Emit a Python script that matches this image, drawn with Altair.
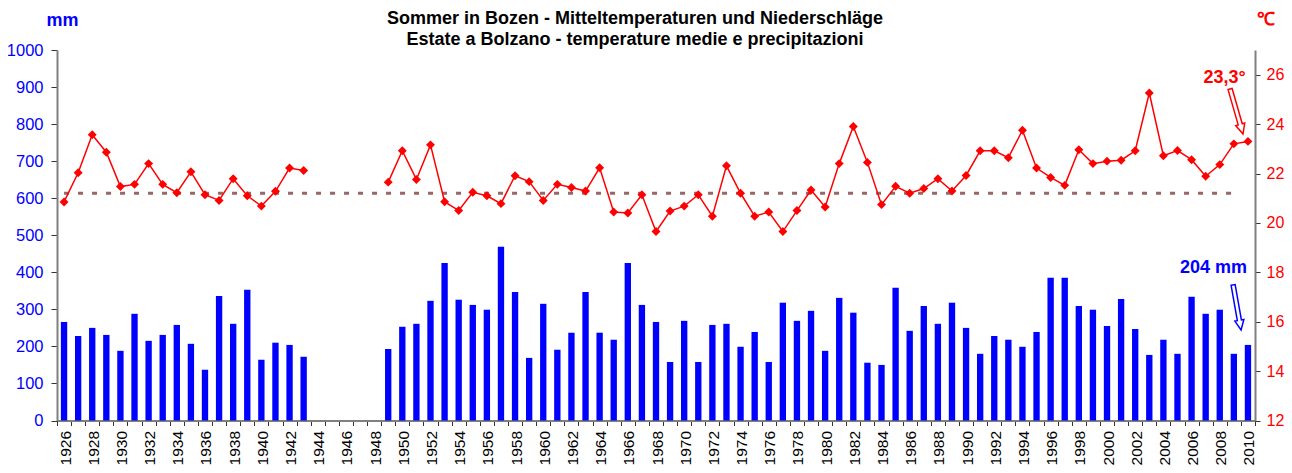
import altair as alt
import pandas as pd

# ---- data ----
years = list(range(1926, 1944)) + list(range(1949, 2011))
temps = [20.85, 22.03, 23.57, 22.86, 21.47, 21.56, 22.40, 21.56, 21.22, 22.07,
         21.14, 20.91, 21.79, 21.10, 20.68, 21.28, 22.22, 22.12,
         21.65, 22.92, 21.76, 23.16, 20.86, 20.50, 21.24, 21.10, 20.78, 21.91,
         21.67, 20.91, 21.56, 21.43, 21.29, 22.23, 20.44, 20.40, 21.14, 19.65,
         20.48, 20.68, 21.14, 20.27, 22.31, 21.20, 20.27, 20.44, 19.65, 20.50,
         21.33, 20.64,
         22.40, 23.90, 22.45, 20.74, 21.48, 21.20, 21.39, 21.79, 21.29, 21.92,
         22.92, 22.92, 22.64, 23.75, 22.22, 21.84, 21.52, 22.96, 22.40, 22.50,
         22.54, 22.92, 25.26, 22.72, 22.93, 22.56, 21.89, 22.36, 23.20, 23.30]
precip = [266, 228, 250, 231, 188, 288, 215, 231, 258, 207, 137, 336, 261, 353,
          164, 210, 204, 172,
          193, 253, 261, 323, 425, 326, 312, 299, 469, 347, 169, 315, 191, 237,
          347, 237, 218, 425, 312, 266, 158, 269, 158, 258, 261, 199, 239, 158,
          318, 269, 296, 188,
          331, 291, 156, 150, 358, 242, 309, 261, 318, 250, 180, 228, 218, 199,
          239, 385, 385, 309, 299, 255, 328, 247, 177, 218, 180, 334, 288, 299,
          180, 204]
mean_temp = 21.2
mean_span = [1926, 2009]
label_years = list(range(1926, 2011, 2))
tick_bounds = [1925.5 + i for i in range(86)]
mm_ticks = list(range(0, 1001, 100))
c_ticks = list(range(12, 27, 2))
title_lines = ["Sommer in Bozen - Mitteltemperaturen und Niederschläge",
               "Estate a Bolzano - temperature medie e precipitazioni"]

df = pd.DataFrame({"year": years, "temp": temps, "precip": precip})
df["period"] = [1 if y < 1944 else 2 for y in years]
df["x1"] = df["year"] - 0.225
df["x2"] = df["year"] + 0.225
df["zero"] = 0

FONT = "Liberation Sans"
BLUE = "#0000ff"
RED = "#ff0000"
W, H = 1198, 370.5

xscale = alt.Scale(domain=[1925.5, 2010.5], nice=False, zero=False)
mm_scale = alt.Scale(domain=[0, 1000], nice=False)
c_scale = alt.Scale(domain=[12, 27], nice=False, zero=False)

label_axis = alt.Axis(values=label_years, format="d", labelAngle=270, orient="bottom",
                      ticks=False, domain=False, labelPadding=10, labelFontSize=15.5,
                      labelColor="black", labelFont=FONT, title=None, grid=False,
                      labelOverlap=False, labelOffset=1)
tick_axis = alt.Axis(values=tick_bounds, labels=False, orient="bottom", tickSize=5,
                     tickColor="#333333", domain=True, domainColor="#808080",
                     domainWidth=2, title=None, grid=False)

left_axis = alt.Axis(values=mm_ticks, format="d", orient="left", labelColor=BLUE,
                     labelFontSize=16.5, labelFont=FONT, tickSize=6, tickColor="#333333",
                     labelPadding=8, domainColor="#808080", domainWidth=2, grid=False,
                     title="mm", titleAngle=0, titleX=5, titleY=-30, titleAlign="center",
                     titleBaseline="middle", titleColor=BLUE, titleFontSize=18,
                     titleFont=FONT, titleFontWeight="bold")
right_axis = alt.Axis(values=c_ticks, format="d", orient="right", labelColor=RED,
                      labelFontSize=16, labelFont=FONT, tickSize=5, tickColor="#333333",
                      labelPadding=6, domainColor="#808080", domainWidth=2, grid=False,
                      title="℃", titleAngle=0, titleX=10, titleY=-31, titleAlign="center",
                      titleBaseline="middle", titleColor=RED, titleFontSize=18,
                      titleFont=FONT, titleFontWeight="bold")

base = alt.Chart(df)

bars = base.mark_rect(color=BLUE).encode(
    x=alt.X("x1:Q", scale=xscale, axis=label_axis),
    x2="x2:Q",
    y=alt.Y("precip:Q", scale=mm_scale, axis=left_axis),
    y2="zero:Q",
)

arrow_path = "M-0.09,-1L0.09,-1L0.09,0.57L0.2,0.57L0,1L-0.2,0.57L-0.09,0.57Z"

last_p = precip[-1]
blue_ann = pd.DataFrame({"x": [2007.56], "y": [411], "t": [f"{last_p} mm"]})
blue_text = alt.Chart(blue_ann).mark_text(
    font=FONT, fontSize=18, fontWeight="bold", color=BLUE, align="center", baseline="middle"
).encode(x=alt.X("x:Q", scale=xscale, axis=None), y=alt.Y("y:Q", scale=mm_scale, axis=None), text="t:N")
blue_arrow_df = pd.DataFrame({"x": [2009.23], "y": [305]})
blue_arrow = alt.Chart(blue_arrow_df).mark_point(
    shape=arrow_path, size=2090, angle=350, filled=True, fill="white", stroke=BLUE,
    strokeWidth=1.5, opacity=1
).encode(x=alt.X("x:Q", scale=xscale, axis=None), y=alt.Y("y:Q", scale=mm_scale, axis=None))

mean_df = pd.DataFrame({"x": [mean_span[0]], "x2": [mean_span[1]], "y": [mean_temp]})
mean_rule = alt.Chart(mean_df).mark_rule(
    color="#996666", strokeWidth=3, strokeDash=[5, 9], strokeCap="butt"
).encode(x=alt.X("x:Q", scale=xscale, axis=None), x2="x2:Q",
         y=alt.Y("y:Q", scale=c_scale, axis=None))

line = base.mark_line(color=RED, strokeWidth=1.5).encode(
    x=alt.X("year:Q", scale=xscale, axis=tick_axis),
    y=alt.Y("temp:Q", scale=c_scale, axis=right_axis),
    detail="period:N",
)
points = base.mark_point(shape="diamond", size=80, filled=True, color=RED, opacity=1).encode(
    x=alt.X("year:Q", scale=xscale, axis=None),
    y=alt.Y("temp:Q", scale=c_scale, axis=None),
)

last_t = temps[-1]
red_ann = pd.DataFrame({"x": [2008.34], "y": [25.87], "t": [f"{last_t:.1f}".replace(".", ",") + "°"]})
red_text = alt.Chart(red_ann).mark_text(
    font=FONT, fontSize=18, fontWeight="bold", color=RED, align="center", baseline="middle"
).encode(x=alt.X("x:Q", scale=xscale, axis=None), y=alt.Y("y:Q", scale=c_scale, axis=None), text="t:N")
red_arrow_df = pd.DataFrame({"x": [2009.19], "y": [24.51]})
red_arrow = alt.Chart(red_arrow_df).mark_point(
    shape=arrow_path, size=2190, angle=344, filled=True, fill="white", stroke=RED,
    strokeWidth=1.5, opacity=1
).encode(x=alt.X("x:Q", scale=xscale, axis=None), y=alt.Y("y:Q", scale=c_scale, axis=None))

title_df = pd.DataFrame({"t": [0]})
title1 = alt.Chart(title_df).mark_text(
    text=title_lines[0], font=FONT, fontSize=18, fontWeight="bold", color="black",
    align="center", baseline="middle"
).encode(x=alt.value(578), y=alt.value(-31.3))
title2 = alt.Chart(title_df).mark_text(
    text=title_lines[1], font=FONT, fontSize=18, fontWeight="bold", color="black",
    align="center", baseline="middle"
).encode(x=alt.value(578), y=alt.value(-10.3))

chart = alt.layer(
    bars, blue_text, blue_arrow, mean_rule, line, points, red_text, red_arrow, title1, title2
).resolve_scale(y="independent").resolve_axis(x="independent", y="independent").properties(
    width=W, height=H,
    autosize=alt.AutoSizeParams(type="none"),
    padding={"left": 49, "top": 42, "right": 29, "bottom": 44.5},
).configure_view(stroke=None)

chart.save("out.html", embed_options={"renderer": "svg", "actions": False})
